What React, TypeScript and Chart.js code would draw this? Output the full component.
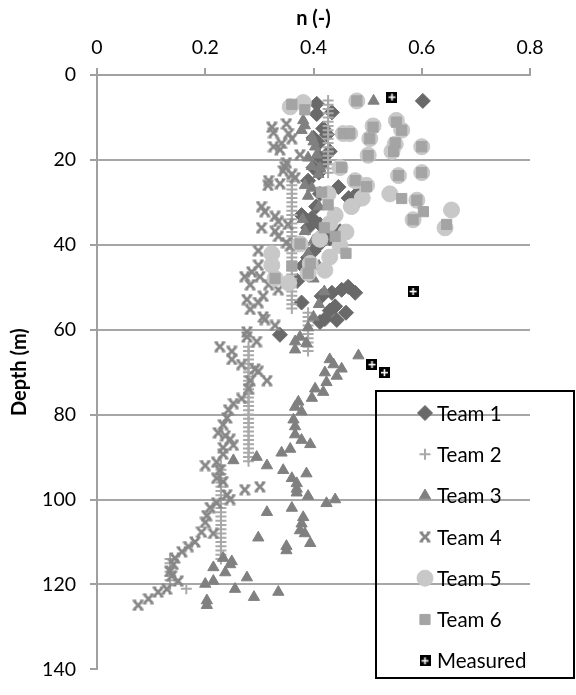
import React, { useEffect, useRef } from 'react';
import { Chart, registerables } from 'chart.js';
import { drawPoint } from 'chart.js/helpers';

Chart.register(...registerables);

const FONT = 'Lato, "Open Sans", sans-serif';

// x axis (porosity n) ticks and y axis (depth) ticks
const nTicks = [0, 0.2, 0.4, 0.6, 0.8];
const depthTicks = [0, 20, 40, 60, 80, 100, 120, 140];

const seriesLabels = ['Team 1', 'Team 2', 'Team 3', 'Team 4', 'Team 5', 'Team 6', 'Measured'];

// [n, depth]
const team1 = [
  [0.602, 6.1], [0.406, 6.8], [0.434, 8.8], [0.406, 9.2], [0.418, 12.6], [0.425, 14.0], [0.4, 14.8],
  [0.41, 16.0], [0.43, 18.0], [0.412, 19.5], [0.42, 20.5], [0.4, 21.8], [0.41, 23.0], [0.39, 24.9],
  [0.446, 26.4], [0.483, 27.6], [0.412, 28.0], [0.465, 29.0], [0.48, 29.9], [0.405, 31.0], [0.378, 33.0],
  [0.397, 33.7], [0.412, 35.2], [0.39, 36.0], [0.449, 36.8], [0.42, 37.0], [0.43, 38.5], [0.41, 40.0],
  [0.4, 41.5], [0.39, 43.0], [0.38, 45.0], [0.39, 47.0], [0.37, 48.5], [0.464, 49.9], [0.452, 50.6],
  [0.477, 51.3], [0.434, 51.3], [0.415, 52.1], [0.378, 53.6], [0.44, 54.5], [0.43, 55.5], [0.46, 56.0],
  [0.421, 57.5], [0.443, 57.7], [0.412, 58.2], [0.338, 61.2],
];

const team2 = [
  [0.427, 6], [0.427, 7], [0.427, 8], [0.427, 9], [0.427, 10], [0.427, 11], [0.427, 12], [0.427, 13],
  [0.427, 14], [0.427, 15], [0.427, 16], [0.427, 17], [0.427, 18], [0.427, 19], [0.427, 20], [0.427, 21],
  [0.427, 22], [0.427, 23],
  [0.36, 24], [0.36, 25], [0.36, 26], [0.36, 27], [0.36, 28], [0.36, 29], [0.36, 30], [0.36, 31],
  [0.36, 32], [0.36, 33], [0.36, 34], [0.36, 35], [0.36, 36], [0.36, 37], [0.36, 38], [0.36, 39],
  [0.36, 40], [0.36, 41], [0.36, 42], [0.36, 43], [0.36, 44], [0.36, 45], [0.36, 46], [0.36, 47],
  [0.36, 48], [0.36, 49], [0.36, 50], [0.36, 51], [0.36, 52], [0.36, 53], [0.36, 54], [0.36, 55],
  [0.39, 56], [0.39, 57], [0.39, 58], [0.39, 59], [0.39, 60], [0.39, 61], [0.39, 62], [0.39, 63],
  [0.39, 64], [0.39, 65],
  [0.28, 64], [0.28, 65], [0.28, 66], [0.28, 67], [0.28, 68], [0.28, 69], [0.28, 70], [0.28, 71],
  [0.28, 72], [0.28, 73], [0.28, 74], [0.28, 75], [0.28, 76], [0.28, 77], [0.28, 78], [0.28, 79],
  [0.28, 80], [0.28, 81], [0.28, 82], [0.28, 83], [0.28, 84], [0.28, 85], [0.28, 86], [0.28, 87],
  [0.28, 88], [0.28, 89], [0.28, 90], [0.28, 91],
  [0.229, 92], [0.229, 93], [0.229, 94], [0.229, 95], [0.229, 96], [0.229, 97], [0.229, 98], [0.229, 99],
  [0.229, 100], [0.229, 101], [0.229, 102], [0.229, 103], [0.229, 104], [0.229, 105], [0.229, 106],
  [0.229, 107], [0.229, 108], [0.229, 109], [0.229, 110], [0.229, 111], [0.229, 112], [0.229, 113],
  [0.229, 114],
  [0.135, 114], [0.135, 115], [0.135, 116], [0.135, 117], [0.135, 118], [0.135, 119], [0.135, 120],
  [0.165, 121],
];

const team3 = [
  [0.511, 6.1], [0.381, 10.7], [0.384, 11.9], [0.378, 13.0], [0.397, 14.6], [0.4, 15.7], [0.403, 16.9],
  [0.406, 18.8], [0.39, 19.5], [0.397, 21.5], [0.412, 21.8], [0.409, 23.4], [0.384, 26.0], [0.397, 26.6],
  [0.39, 28.5], [0.41, 31.0], [0.38, 34.0], [0.384, 36.8], [0.4, 39.0], [0.39, 42.0], [0.41, 45.0],
  [0.4, 48.0], [0.42, 51.0], [0.41, 54.0], [0.4, 57.0], [0.39, 59.5], [0.375, 61.7], [0.387, 63.2],
  [0.366, 62.8], [0.366, 64.7],
  [0.483, 66.1], [0.43, 67.0], [0.437, 68.2], [0.452, 69.2], [0.421, 70.1], [0.443, 70.9], [0.424, 72.4],
  [0.403, 73.9], [0.418, 74.7], [0.397, 76.1], [0.372, 77.0], [0.366, 78.2], [0.378, 79.3], [0.363, 81.2],
  [0.366, 82.8], [0.366, 84.7], [0.378, 86.0], [0.394, 87.0], [0.357, 88.1], [0.341, 89.0], [0.295, 90.0],
  [0.252, 90.8], [0.314, 92.0], [0.344, 93.1], [0.387, 93.9], [0.36, 95.0], [0.369, 96.2], [0.369, 97.5],
  [0.369, 98.4], [0.39, 99.2], [0.44, 100.0], [0.424, 100.9], [0.36, 102.0], [0.314, 103.0], [0.381, 104.2],
  [0.378, 105.7], [0.375, 107.3], [0.384, 108.0], [0.298, 109.0], [0.394, 110.3], [0.35, 111.0],
  [0.35, 112.0], [0.233, 113.8], [0.249, 114.6], [0.246, 115.3], [0.215, 116.0], [0.237, 117.2],
  [0.277, 118.4], [0.215, 119.2], [0.2, 119.9], [0.255, 121.1], [0.335, 121.8], [0.29, 123.0],
  [0.203, 123.8], [0.203, 124.9],
];

const team4 = [
  [0.35, 11.5], [0.323, 12.3], [0.326, 13.6], [0.354, 13.8], [0.36, 15.0], [0.341, 16.1], [0.326, 16.9],
  [0.338, 17.6], [0.375, 18.8], [0.35, 20.7], [0.347, 21.6], [0.344, 22.6], [0.36, 23.4], [0.366, 24.2],
  [0.317, 24.9], [0.338, 25.6], [0.316, 26.0], [0.304, 31.0], [0.31, 32.2], [0.329, 33.3], [0.335, 34.5],
  [0.353, 35.2], [0.304, 36.0], [0.329, 36.8], [0.335, 38.0], [0.35, 39.5], [0.357, 40.2], [0.298, 41.4],
  [0.298, 44.8], [0.286, 46.4], [0.301, 47.5], [0.273, 47.5], [0.283, 49.4], [0.317, 49.4], [0.335, 50.6],
  [0.307, 52.1], [0.277, 52.9], [0.298, 53.6], [0.283, 55.2], [0.307, 57.0], [0.31, 57.6], [0.329, 59.0],
  [0.277, 60.5], [0.277, 61.7], [0.295, 62.8], [0.227, 64.0], [0.249, 65.1], [0.249, 67.0], [0.267, 68.2],
  [0.292, 69.3], [0.298, 69.8], [0.314, 72.0], [0.283, 72.0], [0.28, 73.9], [0.267, 76.2], [0.252, 77.4],
  [0.243, 78.9], [0.24, 80.8], [0.233, 82.4], [0.224, 84.3], [0.237, 85.0], [0.246, 85.8], [0.252, 87.2],
  [0.233, 87.8], [0.233, 89.3], [0.221, 91.2], [0.2, 92.0], [0.227, 93.1], [0.221, 95.0], [0.233, 95.8],
  [0.301, 97.0], [0.273, 97.7], [0.24, 98.9], [0.246, 100.0], [0.221, 100.8], [0.209, 101.9],
  [0.203, 103.8], [0.2, 105.4], [0.193, 107.7], [0.215, 108.0], [0.181, 110.0], [0.169, 111.1],
  [0.157, 112.3], [0.144, 113.8], [0.141, 115.3], [0.135, 116.9], [0.138, 118.0], [0.15, 119.2],
  [0.129, 121.1], [0.113, 121.8], [0.095, 123.4], [0.076, 124.9],
];

const team5 = [
  [0.357, 7.5], [0.381, 6.5], [0.48, 6.1], [0.455, 13.8], [0.467, 13.8], [0.51, 12.0], [0.553, 10.7],
  [0.563, 13.0], [0.504, 15.0], [0.551, 16.3], [0.545, 18.0], [0.6, 16.9], [0.501, 18.9], [0.449, 21.8],
  [0.477, 24.9], [0.498, 26.0], [0.557, 23.7], [0.6, 23.0], [0.541, 28.0], [0.591, 29.5], [0.655, 31.8],
  [0.643, 36.0], [0.584, 34.1], [0.49, 29.0], [0.47, 31.0], [0.44, 33.0], [0.427, 28.0], [0.375, 39.8],
  [0.412, 38.7], [0.449, 40.2], [0.43, 42.9], [0.394, 44.4], [0.39, 46.7], [0.421, 46.0], [0.323, 42.1],
  [0.323, 44.8], [0.329, 47.9], [0.354, 49.0], [0.46, 37.0], [0.43, 35.0],
];

const team6 = [
  [0.36, 6.9], [0.384, 8.2], [0.48, 6.1], [0.455, 13.8], [0.467, 13.8], [0.51, 12.3], [0.553, 11.1],
  [0.563, 13.0], [0.504, 15.0], [0.551, 16.0], [0.548, 18.0], [0.6, 16.9], [0.501, 19.0], [0.452, 21.8],
  [0.477, 24.9], [0.498, 26.3], [0.557, 23.7], [0.6, 23.0], [0.563, 29.1], [0.591, 29.5], [0.603, 32.2],
  [0.584, 34.1], [0.646, 35.2], [0.415, 27.6], [0.427, 30.6], [0.375, 39.8], [0.394, 44.4], [0.39, 46.7],
  [0.329, 47.9], [0.42, 36.0], [0.44, 38.0], [0.46, 42.0], [0.36, 45.0],
];

const measured = [
  [0.545, 5.2], [0.584, 51.0], [0.508, 68.2], [0.531, 70.1],
];

function makeMeasuredMarker() {
  const c = document.createElement('canvas');
  c.width = 11;
  c.height = 11;
  const g = c.getContext('2d')!;
  g.fillStyle = '#000';
  g.fillRect(0, 0, 11, 11);
  g.fillStyle = '#fff';
  g.fillRect(2, 4.75, 7, 1.6);
  g.fillRect(4.7, 2, 1.6, 7);
  return c;
}

function makeXMarker(color: string) {
  const c = document.createElement('canvas');
  c.width = 12;
  c.height = 12;
  const g = c.getContext('2d')!;
  g.strokeStyle = color;
  g.lineWidth = 2.8;
  g.beginPath();
  g.moveTo(2, 2);
  g.lineTo(10, 10);
  g.moveTo(10, 2);
  g.lineTo(2, 10);
  g.stroke();
  g.lineWidth = 2;
  g.beginPath();
  g.moveTo(0.5, 1.5); g.lineTo(4.2, 1.5);
  g.moveTo(7.8, 1.5); g.lineTo(11.5, 1.5);
  g.moveTo(0.5, 10.5); g.lineTo(4.2, 10.5);
  g.moveTo(7.8, 10.5); g.lineTo(11.5, 10.5);
  g.stroke();
  return c;
}

const toXY = (pts: number[][]) => pts.map(([n, d]) => ({ x: n, y: d }));

const legendPlugin = {
  id: 'boxLegend',
  afterDraw(chart: any) {
    const ctx = chart.ctx as CanvasRenderingContext2D;
    ctx.save();
    ctx.strokeStyle = '#000';
    ctx.lineWidth = 2;
    ctx.strokeRect(376, 391, 198, 287);
    chart.data.datasets.forEach((ds: any, i: number) => {
      const y = 413 + i * 41.3;
      ctx.fillStyle = ds.backgroundColor;
      ctx.strokeStyle = ds.borderColor;
      ctx.lineWidth = ds.pointBorderWidth;
      drawPoint(ctx, {
        pointStyle: ds.pointStyle,
        radius: ds.pointRadius,
        borderWidth: ds.pointBorderWidth,
        rotation: 0,
      } as any, 425, y);
      ctx.fillStyle = '#000';
      ctx.font = `20.5px ${FONT}`;
      ctx.textBaseline = 'middle';
      ctx.textAlign = 'left';
      ctx.fillText(ds.label, 437, y + 1);
    });
    ctx.restore();
  },
};

export default function App() {
  const ref = useRef<HTMLCanvasElement>(null);

  useEffect(() => {
    document.body.style.margin = '0';
    const canvas = ref.current!;
    const measuredMarker = makeMeasuredMarker();
    const xMarker = makeXMarker('#878787');

    const chart = new Chart(canvas, {
      type: 'scatter',
      data: {
        datasets: [
          {
            label: seriesLabels[0], data: toXY(team1), pointStyle: 'rectRot', pointRadius: 7.5,
            backgroundColor: '#696969', borderColor: '#696969', pointBorderWidth: 1, order: 7,
          },
          {
            label: seriesLabels[1], data: toXY(team2), pointStyle: 'cross', pointRadius: 5.5,
            backgroundColor: '#a9a9a9', borderColor: '#a9a9a9', pointBorderWidth: 2, order: 6,
          },
          {
            label: seriesLabels[2], data: toXY(team3), pointStyle: 'triangle', pointRadius: 6.5,
            backgroundColor: '#808080', borderColor: '#808080', pointBorderWidth: 1, order: 5,
          },
          {
            label: seriesLabels[3], data: toXY(team4), pointStyle: xMarker, pointRadius: 6,
            backgroundColor: '#878787', borderColor: '#878787', pointBorderWidth: 0, order: 4,
          },
          {
            label: seriesLabels[4], data: toXY(team5), pointStyle: 'circle', pointRadius: 8,
            backgroundColor: '#c8c8c8', borderColor: '#c8c8c8', pointBorderWidth: 1, order: 3,
          },
          {
            label: seriesLabels[5], data: toXY(team6), pointStyle: 'rect', pointRadius: 7.2,
            backgroundColor: '#a4a4a4', borderColor: '#a4a4a4', pointBorderWidth: 1, order: 2,
          },
          {
            label: seriesLabels[6], data: toXY(measured), pointStyle: measuredMarker, pointRadius: 6,
            backgroundColor: '#000', borderColor: '#000', pointBorderWidth: 0, order: 1,
          },
        ] as any,
      },
      options: {
        animation: false,
        responsive: false,
        layout: { padding: { left: 0, top: 0, right: 46, bottom: 11 } },
        plugins: { legend: { display: false }, tooltip: { enabled: false } },
        scales: {
          x: {
            type: 'linear',
            position: 'top',
            min: nTicks[0],
            max: nTicks[nTicks.length - 1],
            afterBuildTicks: (scale: any) => { scale.ticks = nTicks.map((v) => ({ value: v })); },
            afterFit: (scale: any) => { scale.height = 75; },
            ticks: {
              color: '#000',
              font: { family: FONT, size: 19.5 },
              padding: 9,
              callback: (v: any) => String(v),
            },
            grid: { drawOnChartArea: false, drawTicks: true, tickLength: 7, color: '#a0a0a0', lineWidth: 2 },
            border: { display: true, color: '#a0a0a0', width: 2 },
            title: {
              display: true, text: 'n (-)', color: '#000',
              font: { family: FONT, size: 20, weight: 'bold' }, padding: { top: 7, bottom: 0 },
            },
          },
          y: {
            type: 'linear',
            reverse: true,
            min: depthTicks[0],
            max: depthTicks[depthTicks.length - 1],
            afterBuildTicks: (scale: any) => { scale.ticks = depthTicks.map((v) => ({ value: v })); },
            afterFit: (scale: any) => { scale.width = 97; },
            ticks: {
              color: '#000',
              font: { family: FONT, size: 19.5 },
              padding: 14,
            },
            grid: {
              drawTicks: true, tickLength: 7, lineWidth: 2, tickColor: '#a0a0a0',
              color: (c: any) => (c.tick && (c.tick.value === 0 || c.tick.value === 140) ? 'rgba(0,0,0,0)' : '#a6a6a6'),
            },
            border: { display: true, color: '#a0a0a0', width: 2 },
            title: {
              display: true, text: 'Depth (m)', color: '#000',
              font: { family: FONT, size: 20, weight: 'bold' }, padding: { top: 8, bottom: 0 },
            },
          },
        },
      },
      plugins: [legendPlugin],
    });
    return () => chart.destroy();
  }, []);

  return <canvas ref={ref} width={576} height={695} style={{ display: 'block' }} />;
}
